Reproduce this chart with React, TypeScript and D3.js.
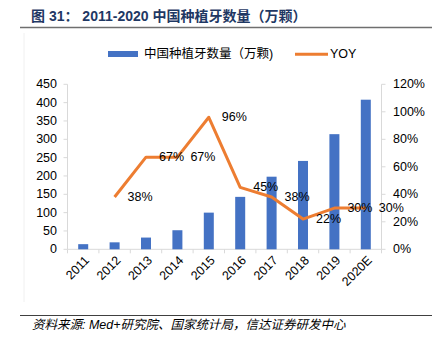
import React from "react";
import * as d3 from "d3";

const categories = ["2011", "2012", "2013", "2014", "2015", "2016", "2017", "2018", "2019", "2020E"];
const implantCounts = [14, 19, 32, 52, 100, 143, 198, 241, 314, 408];
const yoyValues: (number | null)[] = [null, 0.38, 0.67, 0.67, 0.96, 0.45, 0.38, 0.22, 0.30, 0.30];
const yoyLabels = ["", "38%", "67%", "67%", "96%", "45%", "38%", "22%", "30%", "30%"];
const leftTicks = [0, 50, 100, 150, 200, 250, 300, 350, 400, 450];
const rightTicks = [0, 0.2, 0.4, 0.6, 0.8, 1.0, 1.2];

const titleText = "图 31： 2011-2020 中国种植牙数量（万颗）";
const legendBarText = "中国种植牙数量（万颗)";
const legendLineText = "YOY";
const sourceText = "资料来源: Med+研究院、国家统计局，信达证券研发中心";

export default function App() {
  const W = 437, H = 349;
  const x0 = 67.5, x1 = 381.5, yBottom = 249.3, yTop = 84.3;
  const font = "'Liberation Sans', Arial, sans-serif";
  const cjkFont = "'Liberation Sans', 'Noto Sans CJK SC', sans-serif";

  const x = d3.scaleBand<string>().domain(categories).range([x0, x1]).paddingInner(0).paddingOuter(0);
  const yL = d3.scaleLinear().domain([0, 450]).range([yBottom, yTop]);
  const yR = d3.scaleLinear().domain([0, 1.2]).range([yBottom, yTop]);
  const barW = 10;
  const cx = (c: string) => (x(c) as number) + x.bandwidth() / 2;

  const lineGen = d3
    .line<number | null>()
    .defined((d) => d !== null)
    .x((_, i) => cx(categories[i]))
    .y((d) => yR(d as number));

  const axisColor = "#D9D9D9";
  const fs = 12.5;

  return (
    <div style={{ position: "fixed", left: 0, top: 0 }}>
      <svg width={W} height={H} style={{ display: "block", background: "#fff" }}>
        {/* Title */}
        <text x={31} y={21} fontFamily={cjkFont} fontWeight="bold" fontSize={14} fill="#1F3864">
          {titleText}
        </text>
        <line x1={20} x2={432} y1={27.5} y2={27.5} stroke="#6f6f6f" strokeWidth={1.5} />

        {/* faint chart border */}
        <line x1={24} x2={24} y1={33} y2={302} stroke="#F0F0F0" strokeWidth={1} />

        {/* Legend */}
        <rect x={108} y={51} width={30} height={6} fill="#4472C4" />
        <text x={144} y={54} dominantBaseline="central" fontFamily={cjkFont} fontSize={12.5} fill="#000">
          {legendBarText}
        </text>
        <line x1={295} x2={328} y1={54.3} y2={54.3} stroke="#ED7D31" strokeWidth={3} />
        <text x={330} y={54} dominantBaseline="central" fontFamily={font} fontSize={fs} fill="#000">
          {legendLineText}
        </text>

        {/* Axes */}
        <line x1={x0} x2={x0} y1={yTop} y2={yBottom} stroke={axisColor} />
        <line x1={x1} x2={x1} y1={yTop} y2={yBottom} stroke={axisColor} />
        <line x1={x0} x2={x1} y1={yBottom} y2={yBottom} stroke={axisColor} />
        {leftTicks.map((t) => (
          <g key={"l" + t}>
            <line x1={x0 - 4} x2={x0} y1={yL(t)} y2={yL(t)} stroke={axisColor} />
            <text x={57} y={yL(t)} dominantBaseline="central" textAnchor="end" fontFamily={font} fontSize={fs} fill="#000">
              {t}
            </text>
          </g>
        ))}
        {rightTicks.map((t) => (
          <g key={"r" + t}>
            <line x1={x1} x2={x1 + 4} y1={yR(t)} y2={yR(t)} stroke={axisColor} />
            <text x={393} y={yR(t)} dominantBaseline="central" textAnchor="start" fontFamily={font} fontSize={fs} fill="#000">
              {Math.round(t * 100) + "%"}
            </text>
          </g>
        ))}
        {categories.map((c, i) => (
          <line key={"bt" + i} x1={x(c) as number} x2={x(c) as number} y1={yBottom} y2={yBottom + 4} stroke={axisColor} />
        ))}
        <line x1={x1} x2={x1} y1={yBottom} y2={yBottom + 4} stroke={axisColor} />

        {/* Bars */}
        {categories.map((c, i) => (
          <rect
            key={"b" + c}
            x={cx(c) - barW / 2}
            y={yL(implantCounts[i])}
            width={barW}
            height={yBottom - yL(implantCounts[i])}
            fill="#4472C4"
          />
        ))}

        {/* X labels */}
        {categories.map((c) => (
          <text
            key={"xl" + c}
            transform={`translate(${cx(c) + 4},${yBottom + 9}) rotate(-45)`}
            textAnchor="end"
            dominantBaseline="central"
            fontFamily={font}
            fontSize={fs}
            fill="#000"
          >
            {c}
          </text>
        ))}

        {/* Line */}
        <path d={lineGen(yoyValues) || ""} fill="none" stroke="#ED7D31" strokeWidth={3} strokeLinejoin="round" />

        {/* Data labels */}
        {yoyValues.map((v, i) =>
          v === null ? null : (
            <text
              key={"dl" + i}
              x={cx(categories[i]) + 13}
              y={yR(v)}
              dominantBaseline="central"
              fontFamily={font}
              fontSize={fs}
              fill="#000"
            >
              {yoyLabels[i]}
            </text>
          )
        )}

        {/* Footer */}
        <line x1={20} x2={432} y1={315.5} y2={315.5} stroke="#404040" strokeWidth={1} />
        <text x={32} y={325} dominantBaseline="central" fontFamily={cjkFont} fontStyle="italic" fontSize={12.5} fill="#000">
          {sourceText}
        </text>
      </svg>
    </div>
  );
}
